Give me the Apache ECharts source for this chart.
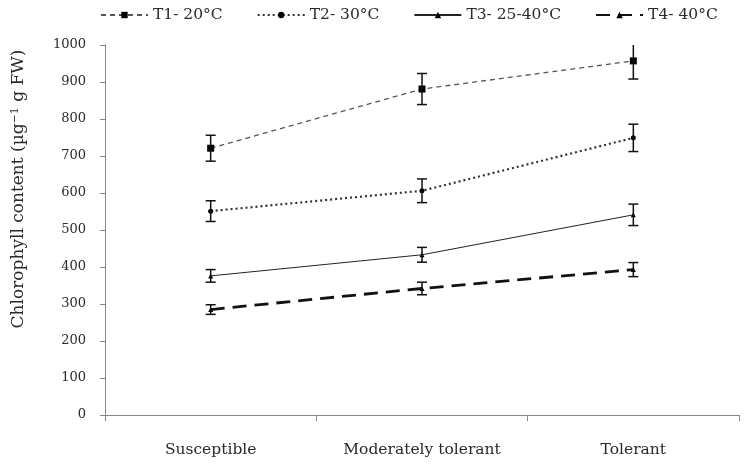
<!DOCTYPE html>
<html>
<head>
<meta charset="utf-8">
<script src="https://cdn.jsdelivr.net/npm/echarts@6/dist/echarts.min.js"></script>
<style>
  html, body { margin: 0; padding: 0; background: #fff; }
  #chart { width: 748px; height: 465px; }
</style>
</head>
<body>
<div id="chart"></div>
<script>
// data
const categories = ["Susceptible", "Moderately tolerant", "Tolerant"];
const yTicks = [0, 100, 200, 300, 400, 500, 600, 700, 800, 900, 1000];
const t1 = [721, 881, 957];
const t1Err = [35, 42, 49];
const t2 = [551, 606, 749];
const t2Err = [28, 32, 37];
const t3 = [376, 433, 541];
const t3Err = [17, 20, 29];
const t4 = [285, 342, 393];
const t4Err = [13, 17, 19];

const font = "DejaVu Serif";
const txt = "#2a2a2a";
const chart = echarts.init(document.getElementById("chart"));

const lineSeries = (name, data, type, width, symbol, size, color) => ({
  name,
  type: "line",
  data,
  symbol,
  symbolSize: size,
  showSymbol: true,
  lineStyle: { type, width, color },
  itemStyle: { color: "#000" },
  z: 3,
});

// error bars drawn with custom series
const errSeries = (vals, errs) => ({
  type: "custom",
  clip: true,
  silent: true,
  z: 4,
  data: vals.map((v, i) => [i, v, errs[i]]),
  renderItem(params, api) {
    const i = api.value(0);
    const v = api.value(1);
    const e = api.value(2);
    const top = api.coord([i, v + e]);
    const bot = api.coord([i, v - e]);
    const w = 5;
    const style = { stroke: "#111", lineWidth: 1.5 };
    const children = [
      { type: "line", shape: { x1: top[0], y1: top[1], x2: bot[0], y2: bot[1] }, style },
      { type: "line", shape: { x1: bot[0] - w, y1: bot[1], x2: bot[0] + w, y2: bot[1] }, style },
    ];
    if (v + e <= 1000) {
      children.push({ type: "line", shape: { x1: top[0] - w, y1: top[1], x2: top[0] + w, y2: top[1] }, style });
    }
    return { type: "group", children };
  },
});

chart.setOption({
  animation: false,
  textStyle: { fontFamily: font },
  grid: { left: 105, right: 9, top: 45, bottom: 50 },
  legend: {
    top: 2,
    left: 95,
    itemWidth: 47,
    itemHeight: 8,
    itemGap: 34,
    textStyle: { fontFamily: font, fontSize: 15.5, color: txt },
    data: ["T1- 20°C", "T2- 30°C", "T3- 25-40°C", "T4- 40°C"],
  },
  graphic: [{
    type: "text",
    x: 19,
    y: 189,
    rotation: Math.PI / 2,
    style: {
      text: "Chlorophyll content (µg{sup|−1} g FW)",
      fontFamily: font,
      fontSize: 17,
      fill: txt,
      align: "center",
      verticalAlign: "middle",
      rich: { sup: { fontFamily: font, fontSize: 11, verticalAlign: "top", padding: [0, 0, 7, 0] } },
    },
  }],
  xAxis: {
    type: "category",
    data: categories,
    axisLine: { lineStyle: { color: "#868686", width: 1 } },
    axisTick: { show: true, length: 6, lineStyle: { color: "#868686" } },
    axisLabel: { fontFamily: font, fontSize: 15.5, color: txt, margin: 27 },
  },
  yAxis: {
    type: "value",
    min: yTicks[0],
    max: yTicks[yTicks.length - 1],
    interval: 100,
    splitLine: { show: false },
    axisLine: { show: true, lineStyle: { color: "#868686", width: 1 } },
    axisTick: { show: true, length: 5, lineStyle: { color: "#868686" } },
    axisLabel: { fontFamily: font, fontSize: 13, color: txt, margin: 19, formatter: v => String(v) },
  },
  series: [
    lineSeries("T1- 20°C", t1, [5, 4], 1.3, "rect", 7, "#555"),
    lineSeries("T2- 30°C", t2, [2, 3], 2.2, "circle", 5, "#333"),
    lineSeries("T3- 25-40°C", t3, "solid", 1, "triangle", 5, "#222"),
    lineSeries("T4- 40°C", t4, [14, 8], 2.8, "triangle", 5, "#111"),
    errSeries(t1, t1Err),
    errSeries(t2, t2Err),
    errSeries(t3, t3Err),
    errSeries(t4, t4Err),
  ],
});
</script>
</body>
</html>
